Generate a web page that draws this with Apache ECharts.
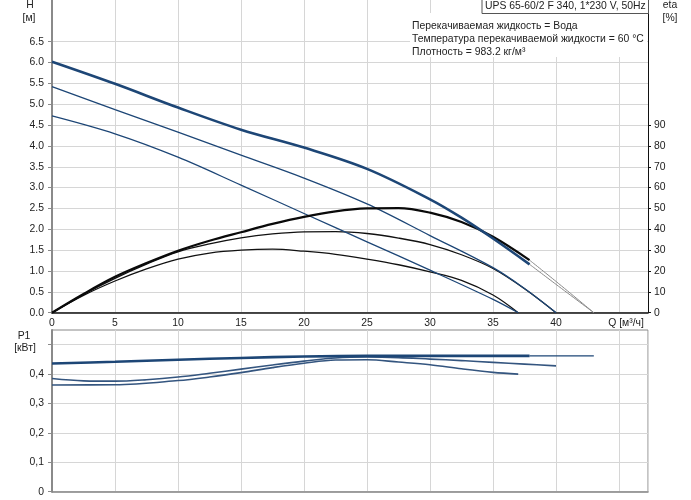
<!DOCTYPE html>
<html><head><meta charset="utf-8">
<script src="https://cdn.jsdelivr.net/npm/echarts@6/dist/echarts.min.js"></script>
<style>html,body{margin:0;padding:0;background:#fff}#c{width:691px;height:500px}</style>
</head><body><div id="c"></div>
<script>
// ---- data ----
var qH3 = [0,5,10,15,20,25,30,32.5,35,37.9];
var h3  = [6.02,5.49,4.92,4.39,3.96,3.45,2.72,2.28,1.78,1.16];
var qH3x = [37.9,40,43];
var h3x  = [1.16,0.68,0];
var qH2 = [0,5,10,15,20,25,30,35,37.5,40];
var h2  = [5.42,4.87,4.33,3.78,3.23,2.61,1.85,1.08,0.58,0];
var qH1 = [0,5,10,15,20,25,30,35,37];
var h1  = [4.72,4.29,3.73,3.06,2.38,1.70,1.02,0.32,0];

var qE3 = [0,2.5,5,7.5,10,12.5,15,17.5,20,22.5,25,27.5,30,32.5,35,37.9];
var e3  = [0,9,17.2,23.8,29.7,34.5,38.6,42.6,46,48.6,50,50.2,48,43.5,36.4,25.2];
var qE3x = [37.9,40,43];
var e3x  = [25.2,15,0];
var qE2 = [0,2.5,5,7.5,10,12.5,15,17.5,20,22.5,25,27.5,30,32.5,35,37.5,40];
var e2  = [0,8.8,16.5,23.3,29.2,33,35.9,37.8,38.8,38.9,38,35.8,32.7,27.8,21.2,11.5,0];
var qE1 = [0,2.5,5,7.5,10,12.5,15,17.5,20,22.5,25,27.5,30,32.5,35,37];
var e1  = [0,8.3,15.2,21,25.7,28.6,30,30.5,29.5,28,25.7,23,19.6,15.5,8.5,0];

var qP3 = [0,5,10,15,20,25,30,35,37.9];
var p3  = [0.436,0.442,0.449,0.455,0.460,0.462,0.462,0.462,0.462];
var qP3x = [37.9,43];
var p3x  = [0.462,0.462];
var qP2 = [0,2.5,5,7.5,10,12.5,15,17.5,20,22.5,25,27.5,30,32.5,35,37.5,40];
var p2  = [0.385,0.377,0.376,0.381,0.390,0.403,0.417,0.431,0.444,0.455,0.458,0.456,0.451,0.446,0.440,0.434,0.428];
var qP1 = [0,5,10,12.5,15,17.5,20,22.5,25,27.5,30,32.5,35,37];
var p1  = [0.363,0.364,0.378,0.390,0.405,0.422,0.437,0.448,0.449,0.441,0.432,0.418,0.406,0.400];

var hTicks   = [0,0.5,1,1.5,2,2.5,3,3.5,4,4.5,5,5.5,6,6.5];
var etaTicks = [0,10,20,30,40,50,60,70,80,90];
var pTicks   = [0,0.1,0.2,0.3,0.4,0.5];
var qTicks   = [0,5,10,15,20,25,30,35,40];

var titleText = 'UPS 65-60/2 F 340, 1*230 V, 50Hz';
var infoLines = ['Перекачиваемая жидкость = Вода','Температура перекачиваемой жидкости = 60 °C','Плотность = 983.2 кг/м³'];

function pts(q, v){ return q.map(function(x,i){ return [x, v[i]]; }); }

var FONT = 'Liberation Sans, Arial, sans-serif';
var FS = 10.4;
var TXT = '#222';
var GRIDC = '#d6d6d6';
var BLUE = '#1d4676';

function line(name, q, v, xi, yi, color, width, z){
  return {name:name, type:'line', xAxisIndex:xi, yAxisIndex:yi, data:pts(q,v), showSymbol:false,
    smooth:0.35, lineStyle:{color:color, width:width}, z:z||2, silent:true, animation:false};
}
function txt(x, y, s, align){
  return {type:'text', x:x, y:y, z:51,
    style:{text:s, font:FS+'px '+FONT, fill:TXT, textAlign:align||'center', textVerticalAlign:'middle'}};
}

var chart = echarts.init(document.getElementById('c'), null, {renderer:'canvas'});
chart.setOption({
  animation:false,
  backgroundColor:'#fff',
  grid:[
    {left:52, right:43, top:0, height:312.7},
    {left:52, right:43, top:330, height:161.7, show:true, borderColor:'#888', borderWidth:1}
  ],
  xAxis:[
    {gridIndex:0, type:'value', min:0, max:47.3, interval:5,
     axisLine:{show:true, onZero:false, lineStyle:{color:'#111', width:1.5}},
     axisTick:{show:false},
     axisLabel:{margin:5, color:TXT, fontFamily:FONT, fontSize:FS, customValues:qTicks},
     splitLine:{show:true, lineStyle:{color:GRIDC, width:1}}},
    {gridIndex:1, type:'value', min:0, max:47.3, interval:5,
     axisLine:{show:true, onZero:false, lineStyle:{color:'#888', width:1.5}},
     axisTick:{show:false}, axisLabel:{show:false},
     splitLine:{show:true, lineStyle:{color:GRIDC, width:1}}}
  ],
  yAxis:[
    {gridIndex:0, type:'value', min:0, max:7.5, interval:0.5, position:'left',
     axisLine:{show:true, lineStyle:{color:'#8a8a8a', width:2}},
     axisTick:{show:true, length:4, lineStyle:{color:'#8a8a8a'}, customValues:hTicks},
     axisLabel:{margin:8, color:TXT, fontFamily:FONT, fontSize:FS, customValues:hTicks,
       formatter:function(v){ return v.toFixed(1); }},
     splitLine:{show:true, lineStyle:{color:GRIDC, width:1}}},
    {gridIndex:0, type:'value', min:0, max:150, interval:10, position:'right',
     axisLine:{show:true, lineStyle:{color:'#111', width:1}},
     axisTick:{show:true, length:3, lineStyle:{color:'#111'}, customValues:etaTicks},
     axisLabel:{margin:6, color:TXT, fontFamily:FONT, fontSize:FS, customValues:etaTicks},
     splitLine:{show:false}},
    {gridIndex:1, type:'value', min:0, max:0.55, interval:0.1, position:'left',
     axisLine:{show:true, lineStyle:{color:'#8a8a8a', width:2}},
     axisTick:{show:true, length:4, lineStyle:{color:'#8a8a8a'}, customValues:pTicks},
     axisLabel:{margin:8, color:TXT, fontFamily:FONT, fontSize:FS, customValues:[0,0.1,0.2,0.3,0.4],
       formatter:function(v){ if (v===0) return '0'; return v.toFixed(1).replace('.',','); }},
     splitLine:{show:true, lineStyle:{color:GRIDC, width:1}}}
  ],
  series:[
    line('H3x', qH3x, h3x, 0, 0, '#8a8a8a', 1, 1),
    line('E3x', qE3x, e3x, 0, 1, '#8a8a8a', 1, 1),
    line('E1', qE1, e1, 0, 1, '#111', 1.3, 2),
    line('E2', qE2, e2, 0, 1, '#111', 1.3, 2),
    line('H1', qH1, h1, 0, 0, BLUE, 1.3, 3),
    line('H2', qH2, h2, 0, 0, BLUE, 1.3, 3),
    line('E3', qE3, e3, 0, 1, '#0a0a0a', 2.2, 4),
    line('H3', qH3, h3, 0, 0, BLUE, 2.6, 5),
    line('P3x', qP3x, p3x, 1, 2, BLUE, 1.2, 1),
    line('P1', qP1, p1, 1, 2, '#34557f', 1.6, 2),
    line('P2', qP2, p2, 1, 2, '#34557f', 1.6, 2),
    line('P3', qP3, p3, 1, 2, BLUE, 2.6, 3)
  ],
  graphic:[
    {type:'rect', left:410, top:13, shape:{width:237, height:44}, style:{fill:'#fff'}, z:50},
    {type:'rect', left:481.5, top:-1, shape:{width:166.5, height:14}, style:{fill:'#fff', stroke:'#555', lineWidth:1}, z:50},
    txt(485, 6.5, titleText, 'left'),
    txt(412, 26, infoLines[0], 'left'),
    txt(412, 39, infoLines[1], 'left'),
    txt(412, 52, infoLines[2], 'left'),
    txt(30, 5, 'H'),
    txt(29, 18, '[м]'),
    txt(670, 5, 'eta'),
    txt(670, 18, '[%]'),
    txt(626, 323, 'Q [м³/ч]'),
    txt(24, 336, 'P1'),
    txt(25, 348, '[кВт]')
  ]
});
</script></body></html>
